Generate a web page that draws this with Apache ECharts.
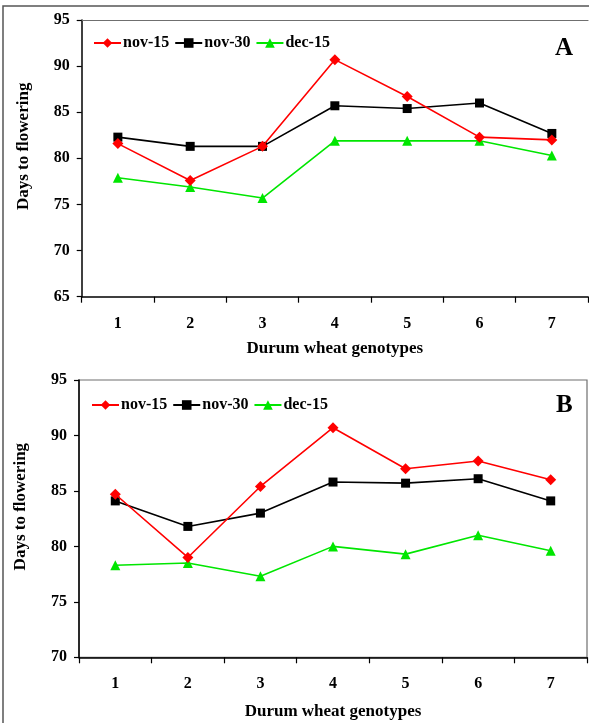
<!DOCTYPE html>
<html>
<head>
<meta charset="utf-8">
<script src="https://cdn.jsdelivr.net/npm/echarts@6/dist/echarts.min.js"></script>
<style>
  html, body { margin: 0; padding: 0; background: #fff; }
  #chart { width: 589px; height: 723px; }
</style>
</head>
<body>
<div id="chart"></div>
<script>
// genotypes on the x axis
const genotypes = ['1', '2', '3', '4', '5', '6', '7'];
const seriesNames = ['nov-15', 'nov-30', 'dec-15'];

// panel A
const aNov15 = [81.6, 77.6, 81.3, 90.7, 86.7, 82.3, 82.0];
const aNov30 = [82.3, 81.3, 81.3, 85.7, 85.4, 86.0, 82.7];
const aDec15 = [77.9, 76.9, 75.7, 81.9, 81.9, 81.9, 80.3];

// panel B
const bNov15 = [84.7, 79.0, 85.4, 90.7, 87.0, 87.7, 86.0];
const bNov30 = [84.1, 81.8, 83.0, 85.8, 85.7, 86.1, 84.1];
const bDec15 = [78.3, 78.5, 77.3, 80.0, 79.3, 81.0, 79.6];

const font = '"Liberation Serif", "Times New Roman", serif';
const chart = echarts.init(document.getElementById('chart'), null, {renderer: 'canvas'});

const styles = [
    {color: '#ff0000', symbol: 'diamond', symbolSize: 11},
    {color: '#000000', symbol: 'rect', symbolSize: 9},
    {color: '#00e600', symbol: 'triangle', symbolSize: 10}
];

function makeSeries(name, data, idx, axisIdx) {
    const s = styles[idx];
    return {
        name: name,
        type: 'line',
        data: data,
        xAxisIndex: axisIdx,
        yAxisIndex: axisIdx,
        symbol: s.symbol,
        symbolSize: s.symbolSize,
        showAllSymbol: true,
        itemStyle: {color: s.color},
        lineStyle: {color: s.color, width: 1.6},
        z: 3 - idx,
        animation: false
    };
}

function catAxis(gridIndex, gap) {
    return {
        type: 'category',
        gridIndex: gridIndex,
        data: genotypes,
        boundaryGap: true,
        axisLine: {lineStyle: {color: '#000', width: 1.5}},
        axisTick: {show: true, length: 6, lineStyle: {color: '#000', width: 1.2}},
        axisLabel: {margin: 19, color: '#000', fontFamily: font, fontWeight: 'bold', fontSize: 16},
        name: 'Durum wheat genotypes',
        nameLocation: 'middle',
        nameGap: gap,
        nameTextStyle: {color: '#000', fontFamily: font, fontWeight: 'bold', fontSize: 17}
    };
}

function valAxis(gridIndex, min) {
    return {
        type: 'value',
        gridIndex: gridIndex,
        min: min,
        max: 95,
        interval: 5,
        splitLine: {show: false},
        axisLine: {show: true, lineStyle: {color: '#000', width: 1.5}},
        axisTick: {show: true, length: 5, lineStyle: {color: '#000', width: 1.2}},
        axisLabel: {margin: 12, color: '#000', fontFamily: font, fontWeight: 'bold', fontSize: 16},
        name: 'Days to flowering',
        nameLocation: 'middle',
        nameRotate: 90,
        nameGap: 50,
        nameTextStyle: {color: '#000', fontFamily: font, fontWeight: 'bold', fontSize: 17, padding: [0, 0, 0, 24]}
    };
}

function legendAt(left, top) {
    return {
        data: seriesNames,
        left: left,
        top: top,
        itemWidth: 27,
        itemHeight: 12,
        itemGap: 5,
        selectedMode: false,
        textStyle: {color: '#000', fontFamily: font, fontWeight: 'bold', fontSize: 16, padding: [0, 0, 0, -3]}
    };
}

const option = {
    backgroundColor: '#fff',
    animation: false,
    grid: [
        {left: 81.7, top: 20, width: 506.3, height: 276.7, show: false},
        {left: 79, top: 380, width: 508, height: 277.3, show: true, borderColor: '#6f6f6f', borderWidth: 1.2}
    ],
    legend: [legendAt(88, 30), legendAt(86, 392)],
    xAxis: [
        catAxis(0, 43),
        catAxis(1, 46),
        // top border of panel A
        {type: 'category', gridIndex: 0, position: 'top', data: genotypes,
         axisLine: {lineStyle: {color: '#6f6f6f', width: 1.2}}, axisTick: {show: false}, axisLabel: {show: false}}
    ],
    yAxis: [valAxis(0, 65), valAxis(1, 70)],
    series: [
        makeSeries('nov-15', aNov15, 0, 0),
        makeSeries('nov-30', aNov30, 1, 0),
        makeSeries('dec-15', aDec15, 2, 0),
        makeSeries('nov-15', bNov15, 0, 1),
        makeSeries('nov-30', bNov30, 1, 1),
        makeSeries('dec-15', bDec15, 2, 1)
    ],
    graphic: [
        // outer frame (top and left edges)
        {type: 'polyline', shape: {points: [[3, 723], [3, 6], [589, 6]]},
         style: {stroke: '#555', lineWidth: 1.5, fill: null}, silent: true},
        {type: 'text', left: 555, top: 36,
         style: {text: 'A', font: 'bold 25px ' + font, fill: '#000'}},
        {type: 'text', left: 556, top: 393,
         style: {text: 'B', font: 'bold 25px ' + font, fill: '#000'}}
    ]
};

chart.setOption(option);
</script>
</body>
</html>
